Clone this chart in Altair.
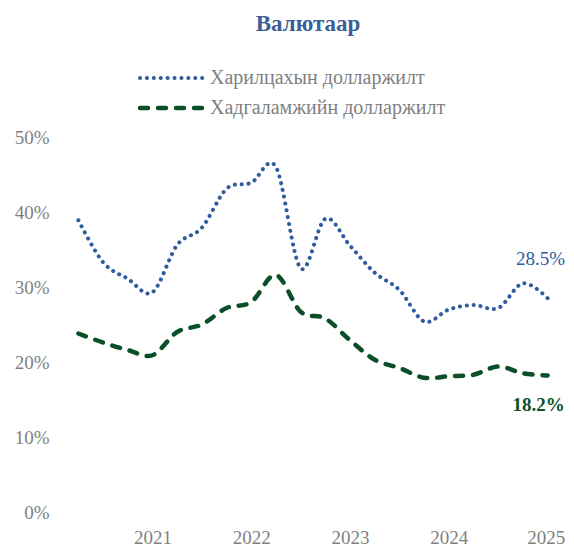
import altair as alt
import pandas as pd

# Quarterly periods (labels shown on the first quarter of each year)
periods = ["2020Q2", "2020Q3", "2020Q4",
           "2021Q1", "2021Q2", "2021Q3", "2021Q4",
           "2022Q1", "2022Q2", "2022Q3", "2022Q4",
           "2023Q1", "2023Q2", "2023Q3", "2023Q4",
           "2024Q1", "2024Q2", "2024Q3", "2024Q4",
           "2025Q1"]
# Харилцахын долларжилт (current accounts), %
current_usd = [38.9, 33.3, 31.1, 29.3, 35.6, 37.9, 43.1, 43.9, 46.0, 32.5,
               39.1, 35.5, 31.9, 29.6, 25.4, 27.0, 27.6, 27.2, 30.5, 28.5]
# Хадгаламжийн долларжилт (savings), %
savings_usd = [23.8, 22.6, 21.6, 20.9, 24.0, 25.0, 27.2, 28.0, 31.6, 26.7,
               25.8, 22.9, 20.3, 19.2, 17.9, 18.1, 18.3, 19.4, 18.5, 18.2]
year_ticks = ["2021Q1", "2022Q1", "2023Q1", "2024Q1", "2025Q1"]
y_ticks = [0, 10, 20, 30, 40, 50]

title_text = "Валютаар"
name_current = "Харилцахын долларжилт"
name_savings = "Хадгаламжийн долларжилт"

BLUE = "#2D5C9F"
GREEN = "#0A4F28"
GREY = "#7F7F7F"
FONT = "Liberation Serif"

df = pd.DataFrame({"period": periods, "cur": current_usd, "sav": savings_usd})

x_enc = alt.X("period:O", sort=periods,
              scale=alt.Scale(type="point", padding=0.5),
              axis=alt.Axis(values=year_ticks, labelExpr="slice(datum.label, 0, 4)",
                            labelAngle=0, labelFont=FONT, labelFontSize=19,
                            labelColor=GREY, labelPadding=16, ticks=False,
                            labelOffset={"condition": {"test": "datum.value == '2025Q1'",
                                                       "value": -2},
                                         "value": 0},
                            domain=False, grid=False, title=None))

y_scale = alt.Scale(domain=[0, 50], nice=False)
y_axis = alt.Axis(values=y_ticks, labelExpr="datum.value + '%'", labelFont=FONT,
                  labelFontSize=19, labelColor=GREY, labelPadding=17, ticks=False,
                  domain=False, grid=False, title=None)

base = alt.Chart(df)

line_cur = base.mark_line(color=BLUE, strokeWidth=4, strokeDash=[0.1, 6.8],
                          strokeCap="round", interpolate="cardinal").encode(
    x=x_enc, y=alt.Y("cur:Q", scale=y_scale, axis=y_axis))

line_sav = base.mark_line(color=GREEN, strokeWidth=4.5, strokeDash=[8, 10],
                          strokeCap="round", interpolate="cardinal").encode(
    x=x_enc, y=alt.Y("sav:Q", scale=y_scale, axis=y_axis))

last = df.tail(1)
lbl_cur = alt.Chart(last).transform_calculate(
    t="format(datum.cur, '.1f') + '%'").mark_text(
    font=FONT, fontSize=19, color=BLUE, dy=-39, dx=-7, align="center").encode(
    x=x_enc, y=alt.Y("cur:Q", scale=y_scale, axis=y_axis), text="t:N")

lbl_sav = alt.Chart(last).transform_calculate(
    t="format(datum.sav, '.1f') + '%'").mark_text(
    font=FONT, fontSize=19, fontWeight="bold", color=GREEN, dy=29, dx=-9, align="center").encode(
    x=x_enc, y=alt.Y("sav:Q", scale=y_scale, axis=y_axis), text="t:N")

one = alt.Data(values=[{"k": 1}])

title_mark = alt.Chart(one).mark_text(
    text=title_text, font=FONT, fontSize=23, fontWeight="bold", color="#3A5E98",
    align="center", baseline="middle").encode(x=alt.value(242), y=alt.value(-113))

leg_rule1 = alt.Chart(one).mark_rule(color=BLUE, strokeWidth=4, strokeDash=[0.1, 6.8],
                                     strokeCap="round").encode(
    x=alt.value(74), x2=alt.value(137), y=alt.value(-59))
leg_rule2 = alt.Chart(one).mark_rule(color=GREEN, strokeWidth=4.5, strokeDash=[8, 10],
                                     strokeCap="round").encode(
    x=alt.value(74), x2=alt.value(137), y=alt.value(-29))
leg_txt1 = alt.Chart(one).mark_text(text=name_current, font=FONT, fontSize=20, color=GREY,
                                    align="left", baseline="middle").encode(
    x=alt.value(144), y=alt.value(-59))
leg_txt2 = alt.Chart(one).mark_text(text=name_savings, font=FONT, fontSize=20, color=GREY,
                                    align="left", baseline="middle").encode(
    x=alt.value(144), y=alt.value(-29))

chart = alt.layer(line_cur, line_sav, lbl_cur, lbl_sav, title_mark,
                  leg_rule1, leg_rule2, leg_txt1, leg_txt2).properties(
    width=494, height=375,
    padding={"left": 58, "top": 129, "right": 6, "bottom": 34},
    autosize="none",
).configure_view(stroke=None)

chart.save("out.html", embed_options={"renderer": "svg", "actions": False})
